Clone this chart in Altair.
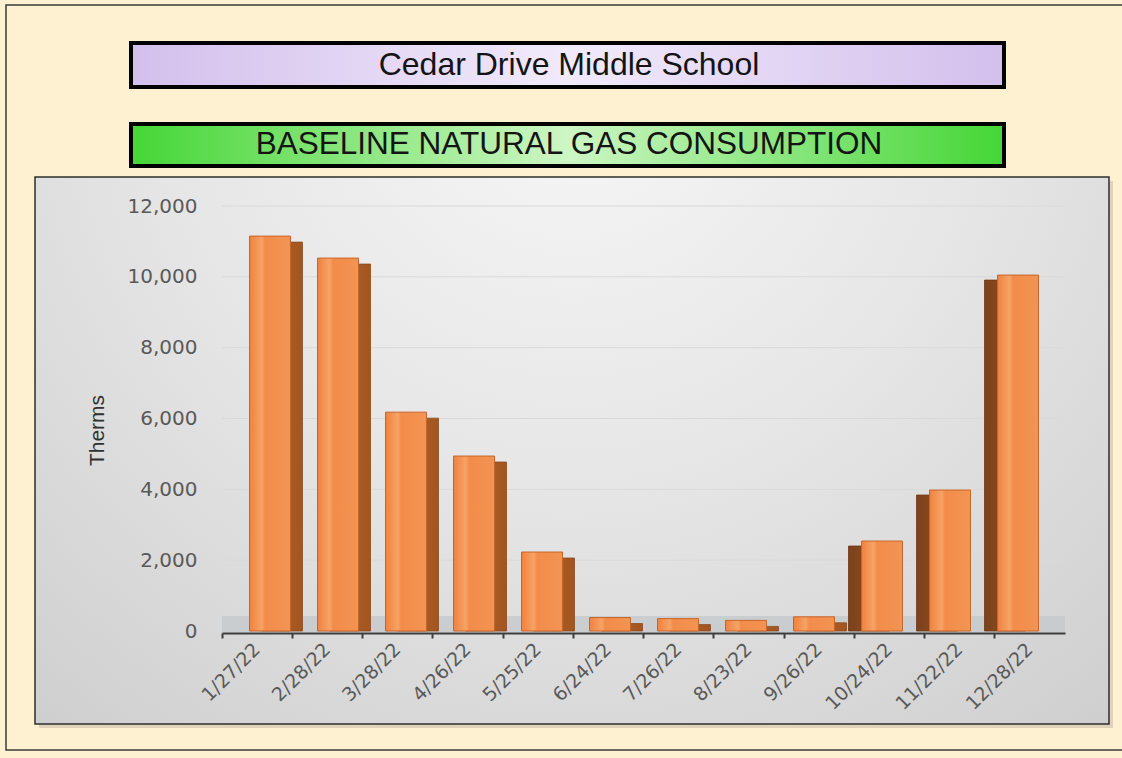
import altair as alt
import pandas as pd

# Monthly natural gas readings (therms) by meter-read date
dates = ["1/27/22", "2/28/22", "3/28/22", "4/26/22", "5/25/22", "6/24/22",
         "7/26/22", "8/23/22", "9/26/22", "10/24/22", "11/22/22", "12/28/22"]
therms = [11150, 10530, 6180, 4940, 2230, 380, 350, 300, 400, 2540, 3980, 10050]
y_ticks = [0, 2000, 4000, 6000, 8000, 10000, 12000]

school = "Cedar Drive Middle School"
heading = "BASELINE NATURAL GAS CONSUMPTION"
y_title = "Therms"

# plot-area size and page padding around it
W, H = 843, 425
LEFT, TOP = 222, 206
PAD = {"left": LEFT, "top": TOP, "right": 1122 - LEFT - W, "bottom": 758 - TOP - H}

df = pd.DataFrame({"date": dates, "therms": therms, "idx": list(range(len(dates)))})
grid_df = pd.DataFrame({"therms": y_ticks[1:]})
one = pd.DataFrame({"k": [0]})

LABEL_FONT = "DejaVu Sans"
TITLE_FONT = "Liberation Sans, Arial, sans-serif"


def box(x, x2, y, y2, **mark):
    """Decorative rectangle placed in pixels relative to the plot origin."""
    return alt.Chart(one).mark_rect(**mark).encode(
        x=alt.value(x), x2=alt.value(x2), y=alt.value(y), y2=alt.value(y2)
    )


def banner(text, y, size):
    return alt.Chart(one).mark_text(
        text=text, font=TITLE_FONT, fontSize=size, color="#141414",
        align="center", baseline="middle"
    ).encode(x=alt.value(347), y=alt.value(y))


def hgrad(stops):
    return alt.LinearGradient(
        gradient="linear", x1=0, x2=1, y1=0, y2=0,
        stops=[alt.GradientStop(color=c, offset=o) for o, c in stops],
    )


outer_frame = box(-216, 930, -201, 544, fillOpacity=0, stroke="#3a3a3a", strokeWidth=1.5)
panel_shadow = box(-183, 891, -25, 522, color="#d8ccb4", opacity=0.8)
panel = box(
    -187, 887, -29, 518,
    color=alt.RadialGradient(
        gradient="radial", x1=0.5, y1=0.15, x2=0.5, y2=0.15, r1=0, r2=0.85,
        stops=[alt.GradientStop(color="#f7f7f7", offset=0),
               alt.GradientStop(color="#e6e6e6", offset=0.45),
               alt.GradientStop(color="#cbcbcb", offset=1)],
    ),
    stroke="#2e2e2e", strokeWidth=1.5,
)
purple_box = box(-91, 782, -163, -119,
                 color=hgrad([(0, "#d3bfec"), (0.5, "#f1eafb"), (1, "#d3bfec")]),
                 stroke="#000000", strokeWidth=4)
green_box = box(-91, 782, -82, -40,
                color=hgrad([(0, "#45d636"), (0.5, "#cdf6c4"), (1, "#45d636")]),
                stroke="#000000", strokeWidth=4)
floor = box(0, W, 410, H + 1, color="#c5c9cc", opacity=0.8)

y_axis = alt.Axis(values=y_ticks, format=",.0f", grid=False, domain=False,
                  ticks=False, labelPadding=25, labelFont=LABEL_FONT,
                  labelFontSize=20, labelColor="#595959", zindex=1,
                  title=y_title, titleFont="Liberation Sans Narrow, Liberation Sans",
                  titleFontSize=21, titleFontWeight="normal", titleColor="#303030",
                  titleAngle=270, titleX=-125, titleY=224,
                  titleAlign="center", titleBaseline="middle")
y_enc = alt.Y("therms:Q", scale=alt.Scale(domain=[0, 12000]), axis=y_axis)

grid = alt.Chart(grid_df).mark_rule(color="#d9d9d9", strokeWidth=1).encode(
    y=y_enc, x=alt.value(0), x2=alt.value(W),
)

# category axis carrier (invisible bars) with the date labels
axis_layer = alt.Chart(df).mark_bar(opacity=0).encode(
    x=alt.X("date:N", sort=dates, title=None,
            scale=alt.Scale(domain=dates, paddingInner=0, paddingOuter=0),
            axis=alt.Axis(labelAngle=315, labelAlign="right", labelBaseline="middle",
                          labelFont=LABEL_FONT, labelFontSize=19, labelColor="#595959",
                          labelPadding=8, domainColor="#3c3c3c", domainWidth=2,
                          tickColor="#3c3c3c", tickWidth=2, tickSize=5,
                          bandPosition=0, offset=2, zindex=1)),
    y=y_enc,
)

bar_x = alt.X("date:N", sort=dates, axis=None,
              scale=alt.Scale(domain=dates, range=[14, 830], paddingInner=0, paddingOuter=0))

left_group = alt.datum.idx < 9
right_group = alt.datum.idx >= 9

# depth faces of the columns, drawn behind the fronts; only the top edge is
# pushed down so the base stays on the floor
side_right = alt.Chart(df).transform_filter(left_group).mark_bar(
    size=41, xOffset=12, yOffset=6,
    color=hgrad([(0, "#b9662f"), (1, "#a2551f")]), stroke="#8c4a1c", strokeWidth=0.8,
).encode(x=bar_x, y=y_enc, y2=alt.datum(0))

side_left = alt.Chart(df).transform_filter(right_group).mark_bar(
    size=41, xOffset=-13, yOffset=5,
    color=hgrad([(0, "#7c421c"), (1, "#9a5224")]), stroke="#6e3a18", strokeWidth=0.8,
).encode(x=bar_x, y=y_enc, y2=alt.datum(0))

front = alt.Chart(df).mark_bar(
    size=41,
    color=hgrad([(0, "#ee8240"), (0.3, "#f7a366"), (0.38, "#f28c4a"), (1, "#f39452")]),
    stroke="#c8652a", strokeWidth=1,
).encode(x=bar_x, y=y_enc)

chart = alt.layer(
    outer_frame, panel_shadow, panel, purple_box, green_box,
    banner(school, -141, 32), banner(heading, -61, 31.5),
    floor, grid, axis_layer, side_right, side_left, front,
).resolve_scale(x="independent").properties(
    width=W, height=H,
    autosize=alt.AutoSizeParams(type="none"),
    padding=PAD,
).configure(background="#fef1d2").configure_view(stroke=None)

chart.save("out.html", embed_options={"renderer": "svg", "actions": False})
